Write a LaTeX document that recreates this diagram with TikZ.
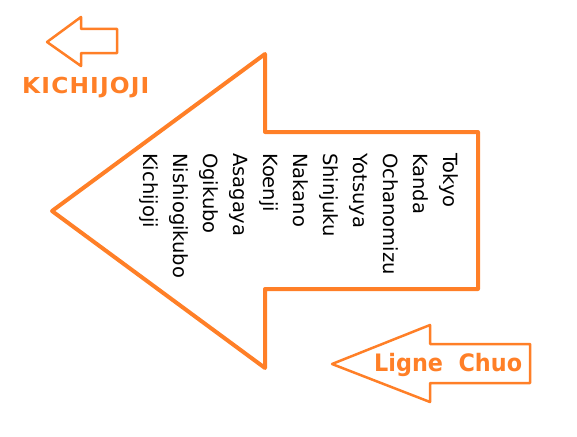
\documentclass[tikz,border=0pt]{standalone}
\usepackage{fontspec}
\setmainfont{DejaVu Sans}
\newfontfamily\kichifont[LetterSpace=5]{DejaVu Sans Bold}
\newfontfamily\lignefont{DejaVu Sans Bold}
\definecolor{paintorange}{RGB}{255,127,39}
\begin{document}
\begin{tikzpicture}[x=1pt,y=-1pt,
  bigarrow/.style={draw=paintorange,line width=4pt,line join=round},
  smallarrow/.style={draw=paintorange,line width=2.5pt,line join=round},
  station/.style={rotate=-90,anchor=base west,inner sep=0pt,font=\fontsize{19.5}{19.5}\selectfont,text=black},
  label/.style={text=paintorange,inner sep=0pt,anchor=base west}]
\useasboundingbox (0,0) rectangle (577,436);
% big arrow
\draw[bigarrow] (52,211) -- (265,54) -- (265,132) -- (478,132) -- (478,289) -- (265,289) -- (265,368) -- cycle;
% top-left small arrow
\draw[smallarrow] (47,42) -- (81,17) -- (81,29) -- (117,29) -- (117,53) -- (81,53) -- (81,66) -- cycle;
% bottom-right small arrow
\draw[smallarrow] (332,364) -- (430,325) -- (430,344) -- (530,344) -- (530,383) -- (430,383) -- (430,402) -- cycle;
% labels
\node[label,xscale=1.06,font=\kichifont\fontsize{22}{22}\selectfont] (kichi) at (22,93) {KICHIJOJI};
\node[label,xscale=0.93,font=\lignefont\fontsize{24}{24}\selectfont] (ligne) at (374,371) {Ligne\ \ Chuo};
% stations
\node[station] (s1) at (443,153) {Tokyo};
\node[station] (s2) at (413,153) {Kanda};
\node[station] (s3) at (383,153) {Ochanomizu};
\node[station] (s4) at (353,153) {Yotsuya};
\node[station] (s5) at (323,153) {Shinjuku};
\node[station] (s6) at (293,153) {Nakano};
\node[station] (s7) at (263,153) {Koenji};
\node[station] (s8) at (233,153) {Asagaya};
\node[station] (s9) at (203,153) {Ogikubo};
\node[station] (s10) at (173,153) {Nishiogikubo};
\node[station] (s11) at (143,153) {Kichijoji};
\end{tikzpicture}
\end{document}
